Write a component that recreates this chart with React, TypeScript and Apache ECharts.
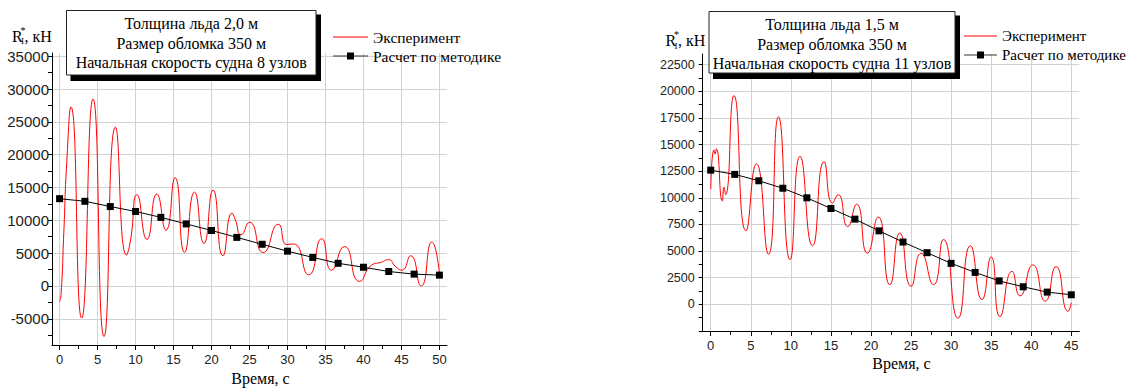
import React, { useEffect, useRef } from "react";
import * as echarts from "echarts";

// ---------- Data: chart 1 (ice 2.0 m, 8 knots) ----------
const exp1T = [0, 0.2, 0.55, 0.95, 1.5, 2.9, 4.4, 5.85, 7.35, 8.8, 9.3, 10.2, 11.5, 12.8, 14.0, 15.2, 16.45, 17.75, 19.0, 20.2, 21.5, 22.7, 23.1, 23.9, 25.0, 26.8, 28.8, 29.9, 30.8, 32.8, 34.5, 35.8, 37.5, 39.5, 41.1, 42.3, 43.3, 44.2, 45.05, 46.2, 47.6, 49.0, 50];
const exp1V = [-2400, -1200, 8000, 19000, 27300, -4900, 28500, -7700, 24200, 4700, 6700, 13900, 7100, 14000, 8500, 16500, 5100, 14300, 6500, 14600, 4600, 11100, 10200, 7800, 9700, 5100, 9400, 6300, 6400, 1700, 7200, 2400, 6000, 700, 3200, 3600, 4000, 3000, 2400, 4600, 0, 6700, 1900];
const calc1T = [0, 3.33, 6.67, 10, 13.33, 16.67, 20, 23.33, 26.67, 30, 33.33, 36.67, 40, 43.33, 46.67, 50];
const calc1V = [13300, 12900, 12100, 11350, 10450, 9450, 8450, 7400, 6350, 5300, 4350, 3450, 2850, 2200, 1800, 1650];

// ---------- Data: chart 2 (ice 1.5 m, 11 knots) ----------
const exp2T = [0, 0.4, 0.55, 0.7, 1.45, 1.65, 1.85, 2.9, 4.4, 5.7, 7.2, 8.45, 9.9, 11.15, 12.7, 14.15, 15.2, 15.9, 17.1, 18.2, 19.55, 20.9, 22.35, 23.6, 25.0, 26.25, 27.8, 29.05, 30.85, 32.4, 33.85, 35.0, 36.1, 37.6, 38.6, 40.2, 41.75, 43.1, 44.6, 45];
const exp2V = [10800, 14500, 14100, 14600, 9700, 11000, 10300, 19600, 6900, 13200, 4700, 17600, 4200, 13900, 5500, 13400, 9500, 10300, 7300, 9400, 4800, 8200, 1850, 6700, 1700, 4800, 1850, 6100, -1300, 5500, 450, 4450, -1150, 3100, 800, 3700, 300, 3550, -650, 150];
const calc2T = [0, 3, 6, 9, 12, 15, 18, 21, 24, 27, 30, 33, 36, 39, 42, 45];
const calc2V = [12600, 12200, 11600, 10900, 10000, 9000, 8000, 6900, 5850, 4850, 3850, 3000, 2200, 1650, 1150, 900];

// ---------- Texts ----------
const seriesNames = ["Эксперимент", "Расчет по методике"];
const title1 = ["Толщина льда 2,0 м", "Размер обломка 350 м", "Начальная скорость судна 8 узлов"];
const title2 = ["Толщина льда 1,5 м", "Размер обломка 350 м", "Начальная скорость судна 11 узлов"];
const xName = "Время, с";

// ---------- Axis ranges ----------
const xRange1 = [-1, 51];
const yRange1 = [-9000, 35500];
const xTicks1 = [0, 50, 5];
const yLabels1 = [-7500, 35000, 2500, 5000]; // from, to, tick step, label step
const ySplit1 = [-5000, 35000, 5000];

const xRange2 = [-1, 46];
const yRange2 = [-2500, 23500];
const xTicks2 = [0, 45, 5];
const yLabels2 = [-2500, 22500, 1250, 2500];
const ySplit2 = [0, 22500, 2500];

const SANS = "Liberation Sans";
const SERIF = "Liberation Serif";
const RED = "#ff0000";

function zip(t: number[], v: number[]) {
  return t.map((x, i) => [x, v[i]]);
}

type Panel = {
  rect: number[]; // L, T, R, B
  xr: number[];
  yr: number[];
  xt: number[];
  yl: number[];
  ys: number[];
  yFont: number;
  yMargin: number;
  yMinLabel: number;
};

function buildPanel(p: Panel, gBase: number) {
  const [L, T, R, B] = p.rect;
  const W = R - L;
  const H = B - T;
  const xPix = (v: number) => L + ((v - p.xr[0]) / (p.xr[1] - p.xr[0])) * W;
  const yPix = (v: number) => B - ((v - p.yr[0]) / (p.yr[1] - p.yr[0])) * H;
  const gridBase = { containLabel: false, outerBoundsMode: "none" };
  const grids = [
    { ...gridBase, left: L, top: T, width: W, height: H },
    { ...gridBase, left: xPix(p.xt[0]), top: T, width: xPix(p.xt[1]) - xPix(p.xt[0]), height: H },
    { ...gridBase, left: L, top: yPix(p.yl[1]), width: W, height: yPix(p.yl[0]) - yPix(p.yl[1]) },
    { ...gridBase, left: L, top: yPix(p.ys[1]), width: W, height: yPix(p.ys[0]) - yPix(p.ys[1]) },
  ];
  const hidden = (g: number) => ({ gridIndex: g, type: "value", show: false });
  const xAxes = [
    {
      gridIndex: gBase,
      type: "value",
      min: p.xr[0],
      max: p.xr[1],
      z: 5,
      axisLine: { show: true, onZero: false, lineStyle: { color: "#000", width: 1 } },
      axisTick: { show: false },
      axisLabel: { show: false },
      splitLine: { show: false },
    },
    {
      gridIndex: gBase + 1,
      type: "value",
      min: p.xt[0],
      max: p.xt[1],
      interval: p.xt[2],
      axisLine: { show: false, onZero: false },
      axisTick: { show: true, inside: false, length: 5, lineStyle: { color: "#000", width: 1 } },
      minorTick: { show: true, splitNumber: 2, length: 4, lineStyle: { color: "#000", width: 1 } },
      axisLabel: { show: true, fontFamily: SANS, fontSize: 13, color: "#222", margin: 8 },
      splitLine: { show: true, lineStyle: { color: "#d2d2d2", width: 1 } },
      minorSplitLine: { show: false },
    },
    hidden(gBase + 2),
    hidden(gBase + 3),
  ];
  const yAxes = [
    {
      gridIndex: gBase,
      type: "value",
      min: p.yr[0],
      max: p.yr[1],
      z: 5,
      axisLine: { show: true, onZero: false, lineStyle: { color: "#000", width: 1 } },
      axisTick: { show: false },
      axisLabel: { show: false },
      splitLine: { show: false },
    },
    hidden(gBase + 1),
    {
      gridIndex: gBase + 2,
      type: "value",
      min: p.yl[0],
      max: p.yl[1],
      interval: p.yl[2],
      axisLine: { show: false, onZero: false },
      axisTick: { show: true, inside: false, length: 4, lineStyle: { color: "#000", width: 1 } },
      axisLabel: {
        show: true,
        fontFamily: SANS,
        fontSize: p.yFont,
        color: "#222",
        margin: p.yMargin,
        formatter: (v: number) =>
          Math.abs(v % p.yl[3]) < 1e-6 && v >= p.yMinLabel ? String(v) : "",
      },
      splitLine: { show: false },
    },
    {
      gridIndex: gBase + 3,
      type: "value",
      min: p.ys[0],
      max: p.ys[1],
      interval: p.ys[2],
      axisLine: { show: false, onZero: false },
      axisTick: { show: false },
      axisLabel: { show: false },
      splitLine: { show: true, lineStyle: { color: "#d2d2d2", width: 1 } },
    },
  ];
  return { grids, xAxes, yAxes };
}

function txt(text: string, x: number, y: number, fs: number, align = "left") {
  return {
    type: "text",
    x,
    y,
    z: 12,
    style: { text, fill: "#000", fontFamily: SERIF, fontSize: fs, align, verticalAlign: "middle" },
  };
}

function titleBox(x: number, y: number, w: number, h: number, lines: string[]) {
  const cx = x + w / 2;
  return [
    { type: "rect", shape: { x: x + 4, y: y + 4, width: w + 1, height: h + 2 }, style: { fill: "#000" }, z: 10 },
    { type: "rect", shape: { x, y, width: w, height: h }, style: { fill: "#fff", stroke: "#222", lineWidth: 1 }, z: 11 },
    ...lines.map((s, i) => txt(s, cx, y + 13 + i * 19.5, 16, "center")),
  ];
}

function legendBlock(x: number, y: number, lineW: number, gap: number, fs: number) {
  const tx = x + lineW + 5;
  return [
    { type: "line", shape: { x1: x, y1: y, x2: x + lineW, y2: y }, style: { stroke: RED, lineWidth: 1 }, z: 12 },
    txt(seriesNames[0], tx, y, fs),
    { type: "line", shape: { x1: x, y1: y + gap, x2: x + lineW, y2: y + gap }, style: { stroke: "#333", lineWidth: 1.2 }, z: 12 },
    { type: "rect", shape: { x: x + lineW / 2 - 3.5, y: y + gap - 3.5, width: 7, height: 7 }, style: { fill: "#000" }, z: 13 },
    txt(seriesNames[1], tx, y + gap, fs),
  ];
}

function yName(x: number, y: number) {
  return [
    txt("R", x, y, 16),
    txt("*", x + 8.5, y - 6, 10),
    txt("I", x + 9, y + 5, 9),
    txt(", кН", x + 12.5, y, 16),
  ];
}

export default function App() {
  const ref = useRef<HTMLDivElement>(null);
  useEffect(() => {
    if (!ref.current) return;
    const chart = echarts.init(ref.current, undefined, { renderer: "svg" });
    const p1 = buildPanel(
      { rect: [52, 53, 447, 345], xr: xRange1, yr: yRange1, xt: xTicks1, yl: yLabels1, ys: ySplit1, yFont: 15, yMargin: 3, yMinLabel: -5000 },
      0
    );
    const p2 = buildPanel(
      { rect: [702.7, 54, 1079.3, 331], xr: xRange2, yr: yRange2, xt: xTicks2, yl: yLabels2, ys: ySplit2, yFont: 12.5, yMargin: 8, yMinLabel: 0 },
      4
    );
    const expSeries = (name: string, data: number[][], xi: number, yi: number) => ({
      name,
      type: "line",
      xAxisIndex: xi,
      yAxisIndex: yi,
      data,
      symbol: "none",
      smooth: 0.6,
      lineStyle: { color: RED, width: 1 },
      itemStyle: { color: RED },
      z: 3,
    });
    const calcSeries = (name: string, data: number[][], xi: number, yi: number) => ({
      name,
      type: "line",
      xAxisIndex: xi,
      yAxisIndex: yi,
      data,
      symbol: "rect",
      symbolSize: 7,
      showSymbol: true,
      lineStyle: { color: "#000", width: 1 },
      itemStyle: { color: "#000" },
      z: 4,
    });
    chart.setOption({
      animation: false,
      grid: [...p1.grids, ...p2.grids],
      xAxis: [...p1.xAxes, ...p2.xAxes],
      yAxis: [...p1.yAxes, ...p2.yAxes],
      series: [
        expSeries(seriesNames[0], zip(exp1T, exp1V), 0, 0),
        calcSeries(seriesNames[1], zip(calc1T, calc1V), 0, 0),
        expSeries(seriesNames[0], zip(exp2T, exp2V), 4, 4),
        calcSeries(seriesNames[1], zip(calc2T, calc2V), 4, 4),
      ],
      graphic: [
        ...titleBox(66.5, 10.5, 249.5, 64.5, title1),
        ...titleBox(709, 11.5, 246, 61.5, title2),
        ...legendBlock(333, 37, 35, 19, 15.5),
        ...legendBlock(964, 36, 33, 19, 15),
        ...yName(12, 36),
        ...yName(665.5, 40.5),
        txt(xName, 260.5, 378, 16, "center"),
        txt(xName, 901.5, 363, 16, "center"),
      ],
    });
    return () => chart.dispose();
  }, []);
  return (
    <div
      ref={ref}
      style={{ position: "fixed", left: 0, top: 0, width: 1130, height: 388, background: "#fff" }}
    />
  );
}
